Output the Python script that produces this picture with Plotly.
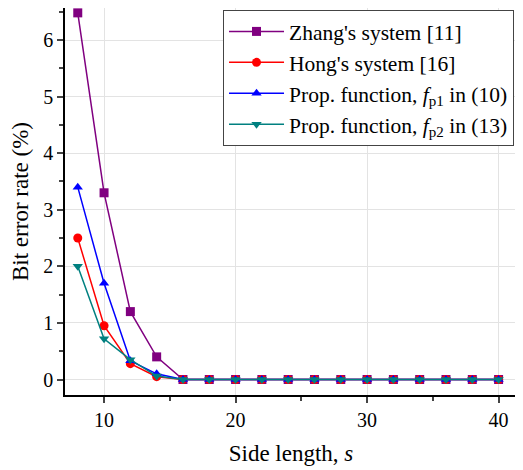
import plotly.graph_objects as go

side_length = [8, 10, 12, 14, 16, 18, 20, 22, 24, 26, 28, 30, 32, 34, 36, 38, 40]
zhang = [6.48, 3.3, 1.2, 0.4, 0, 0, 0, 0, 0, 0, 0, 0, 0, 0, 0, 0, 0]
hong = [2.5, 0.95, 0.28, 0.05, 0, 0, 0, 0, 0, 0, 0, 0, 0, 0, 0, 0, 0]
prop_fp1 = [3.4, 1.7, 0.33, 0.1, 0, 0, 0, 0, 0, 0, 0, 0, 0, 0, 0, 0, 0]
prop_fp2 = [2.0, 0.72, 0.35, 0.06, 0, 0, 0, 0, 0, 0, 0, 0, 0, 0, 0, 0, 0]

names = ["Zhang's system [11]", "Hong's system [16]",
         "Prop. function, <i>f</i><sub>p1</sub> in (10)",
         "Prop. function, <i>f</i><sub>p2</sub> in (13)"]
series = [zhang, hong, prop_fp1, prop_fp2]
colors = ["#800080", "#ff0000", "#0000ff", "#008080"]
symbols = ["square", "circle", "triangle-up", "triangle-down"]

FAM = "Liberation Serif, Times New Roman, serif"

fig = go.Figure()
for n, s, c, m in zip(names, series, colors, symbols):
    fig.add_trace(go.Scatter(x=side_length, y=s, name=n, mode="lines+markers",
                             line=dict(color=c, width=1.5),
                             marker=dict(symbol=m, size=9, color=c)))

fig.update_layout(
    width=515, height=462,
    margin=dict(l=57, r=6, t=0, b=75),
    paper_bgcolor="white", plot_bgcolor="white",
    font=dict(family=FAM, size=20, color="black"),
    showlegend=True,
    legend=dict(x=0.3496, y=0.995, xanchor="left", yanchor="top",
                bordercolor="#444", borderwidth=1, bgcolor="white",
                font=dict(family=FAM, size=21.5, color="black"),
                tracegroupgap=0, itemwidth=55),
)
fig.update_xaxes(range=[7.03, 41.4], tickvals=[10, 20, 30, 40],
                 ticks="outside", ticklen=6, tickwidth=1.5, automargin=False,
                 minor=dict(tickvals=[15, 25, 35], ticks="outside", ticklen=4, tickwidth=1.5, showgrid=False),
                 showline=True, linecolor="black", linewidth=1.5, mirror=True,
                 showgrid=True, gridcolor="#e3e3e3", gridwidth=1, zeroline=False,
                 title=dict(text="Side length, <i>s</i>", font=dict(family=FAM, size=23, color="black")),
                 tickfont=dict(family=FAM, size=20, color="black"))
fig.update_yaxes(range=[-0.274, 6.566], tickvals=[0, 1, 2, 3, 4, 5, 6],
                 ticks="outside", ticklen=6, tickwidth=1.5, automargin=False,
                 minor=dict(tickvals=[0.5, 1.5, 2.5, 3.5, 4.5, 5.5, 6.5], ticks="outside", ticklen=4, tickwidth=1.5, showgrid=False),
                 showline=True, linecolor="black", linewidth=1.5, mirror=True,
                 showgrid=True, gridcolor="#e3e3e3", gridwidth=1, zeroline=False,
                 title=dict(text="Bit error rate (%)", font=dict(family=FAM, size=23, color="black")),
                 tickfont=dict(family=FAM, size=20, color="black"))

fig.write_html("out.html")
